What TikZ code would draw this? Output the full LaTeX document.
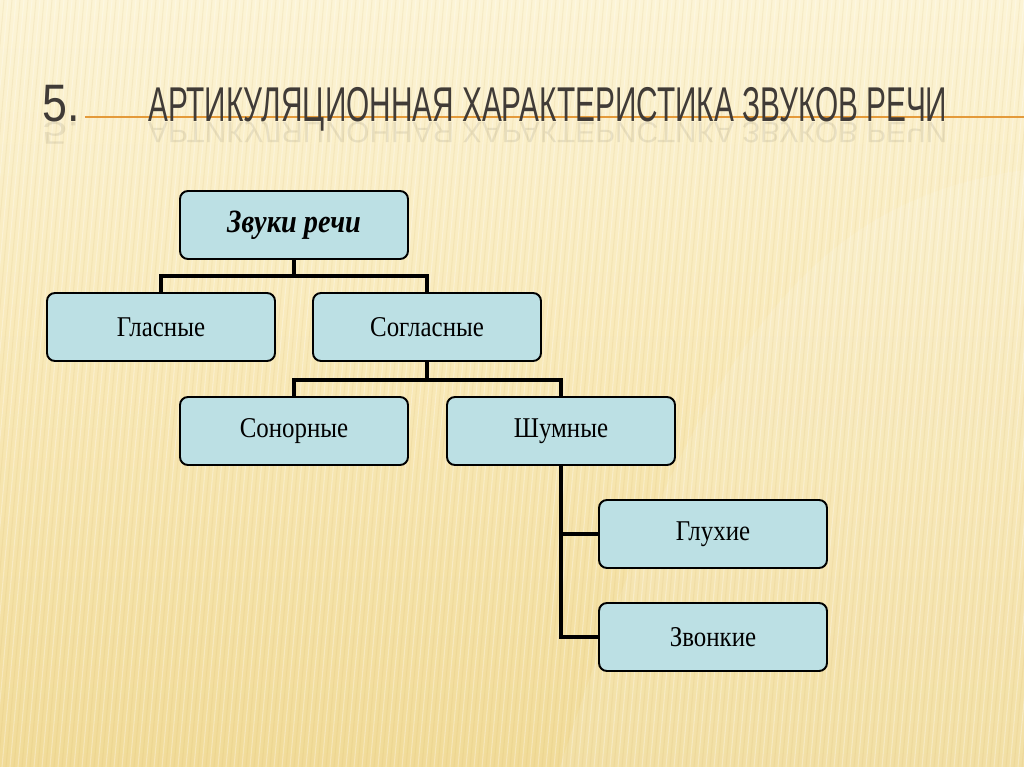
\documentclass[tikz,border=0pt]{standalone}
\usepackage{fontspec}
\setmainfont{Liberation Serif}
\newfontfamily\titlefont{Liberation Sans}
\newfontfamily\boxfont[FakeStretch=0.87]{Liberation Serif}
\definecolor{boxfill}{HTML}{BCE0E4}
\definecolor{bgtop}{HTML}{FCF4D6}
\definecolor{bgmid}{HTML}{F8E8B6}
\definecolor{bgbot}{HTML}{F1DB98}
\definecolor{titlegray}{HTML}{403B37}
\definecolor{rulecol}{HTML}{E49A3A}
\definecolor{stripedark}{HTML}{C9A24A}

\begin{document}
\begin{tikzpicture}[x=0.02cm, y=-0.02cm,
    box/.style={draw, line width=1.1pt, rounded corners=4.5pt, fill=boxfill,
      minimum width=4.56cm, minimum height=1.36cm, inner sep=2pt,
      font=\boxfont\fontsize{16.3}{19}\selectfont},
    rootbox/.style={box, font=\boxfont\fontsize{18.5}{21}\selectfont\bfseries\itshape},
    link/.style={line width=2.3pt, line join=miter},
    stripe/.style={white, opacity=0.3, line width=0.6pt},
    darkstripe/.style={stripedark, opacity=0.10, line width=0.6pt},
    heading/.style={anchor=base west, inner sep=0pt, text=titlegray}]

% background
\useasboundingbox (0,0) rectangle (1024,767);
\shade[top color=bgtop, bottom color=bgbot, middle color=bgmid] (0,0) rectangle (1024,767);
\fill[white, opacity=0.12] (1024,170) .. controls (820,200) and (700,330) .. (560,767) -- (1024,767) -- cycle;
\foreach \i in {0,8,...,1120}
    \draw[stripe] (\i,0) -- (\i-70,767);
\foreach \i in {4,12,...,1120}
    \draw[darkstripe] (\i,0) -- (\i-70,767);

% title
\draw[rulecol, line width=1.1pt] (85,117) -- (1024,117);
\node[heading, xscale=0.85, font=\titlefont\fontsize{30}{32}\selectfont] (num) at (42,121) {5.};
\node[heading, xscale=0.61, font=\titlefont\fontsize{27.8}{30}\selectfont] (title) at (148,121)
    {АРТИКУЛЯЦИОННАЯ ХАРАКТЕРИСТИКА ЗВУКОВ РЕЧИ};
\node[heading, xscale=0.85, yscale=-0.6, opacity=0.1, font=\titlefont\fontsize{30}{32}\selectfont] (numrefl) at (42,123) {5.};
\node[heading, xscale=0.61, yscale=-0.6, opacity=0.1, font=\titlefont\fontsize{27.8}{30}\selectfont] (titlerefl) at (148,123)
    {АРТИКУЛЯЦИОННАЯ ХАРАКТЕРИСТИКА ЗВУКОВ РЕЧИ};

% boxes
\node[rootbox] (zvuki) at (294,225) {Звуки речи};
\node[box] (glasnye) at (161,327) {Гласные};
\node[box] (soglasnye) at (427,327) {Согласные};
\node[box] (sonornye) at (294,431) {Сонорные};
\node[box] (shumnye) at (561,431) {Шумные};
\node[box] (gluhie) at (713,534) {Глухие};
\node[box] (zvonkie) at (713,637) {Звонкие};

% connectors
\coordinate (j1) at (294,276);
\coordinate (j2) at (427,380);
\draw[link] (zvuki.south) -- (j1);
\draw[link] (glasnye.north) |- (j1) -| (soglasnye.north);
\draw[link] (soglasnye.south) -- (j2);
\draw[link] (sonornye.north) |- (j2) -| (shumnye.north);
\draw[link] (shumnye.south) |- (zvonkie.west);
\draw[link] (shumnye.south |- gluhie.west) -- (gluhie.west);
\end{tikzpicture}
\end{document}
